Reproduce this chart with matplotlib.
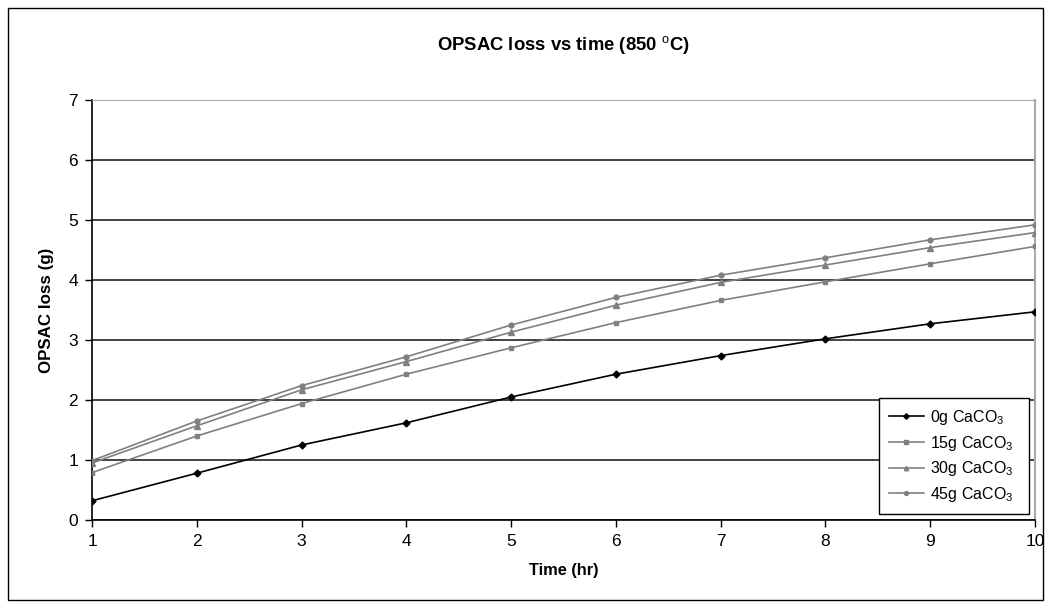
import matplotlib
matplotlib.use("Agg")
import matplotlib.pyplot as plt
from matplotlib.patches import Rectangle

plt.rcParams['font.family'] = ['Liberation Sans', 'DejaVu Sans']
plt.rcParams['mathtext.fontset'] = 'custom'
plt.rcParams['mathtext.rm'] = 'Liberation Sans'
plt.rcParams['mathtext.it'] = 'Liberation Sans'
plt.rcParams['mathtext.bf'] = 'Liberation Sans:bold'

# data
time_hr = [1, 2, 3, 4, 5, 6, 7, 8, 9, 10]
loss_0g = [0.32, 0.78, 1.25, 1.62, 2.05, 2.43, 2.74, 3.02, 3.27, 3.47]
loss_15g = [0.79, 1.40, 1.94, 2.43, 2.87, 3.29, 3.66, 3.97, 4.27, 4.56]
loss_30g = [0.95, 1.57, 2.17, 2.64, 3.13, 3.58, 3.96, 4.25, 4.54, 4.79]
loss_45g = [0.99, 1.65, 2.24, 2.72, 3.25, 3.71, 4.08, 4.37, 4.67, 4.92]
y_ticks = [0, 1, 2, 3, 4, 5, 6, 7]

fig = plt.figure(figsize=(10.51, 6.08), dpi=100)
# outer chart border
fig.patches.append(Rectangle((8 / 1051, 8 / 608), 1035 / 1051, 592 / 608,
                             transform=fig.transFigure, fill=False,
                             edgecolor='black', linewidth=1.0))
ax = fig.add_axes([92 / 1051, 1 - 520 / 608, (1035 - 92) / 1051, 420 / 608])

gray = '#808080'
ax.plot(time_hr, loss_0g, color='black', marker='D', markersize=3.5, linewidth=1.2,
        label='0g CaCO$_3$  ', zorder=5)
ax.plot(time_hr, loss_15g, color=gray, marker='s', markersize=3.5, linewidth=1.2,
        label='15g CaCO$_3$  ', zorder=4)
ax.plot(time_hr, loss_30g, color=gray, marker='^', markersize=4, linewidth=1.2,
        label='30g CaCO$_3$  ', zorder=4)
ax.plot(time_hr, loss_45g, color=gray, marker='o', markersize=3.5, linewidth=1.2,
        label='45g CaCO$_3$  ', zorder=4)

ax.set_xlim(1, 10)
ax.set_ylim(0, 7)
ax.set_xticks(time_hr)
ax.set_yticks(y_ticks)
ax.yaxis.grid(True, color='#222222', linewidth=1.2)
ax.set_axisbelow(True)
ax.tick_params(direction='out', length=5, width=1, labelsize=12.5, colors='black', pad=5)
ax.spines['left'].set_linewidth(1.2)
ax.spines['bottom'].set_linewidth(1.2)
ax.spines['right'].set_color('#aaaaaa')
ax.spines['right'].set_linewidth(1.5)
ax.spines['top'].set_color('#aaaaaa')

ax.set_title('OPSAC loss vs time (850 $^{\\mathrm{o}}$C)', fontsize=13.3, fontweight='bold',
             pad=36)
ax.set_ylabel('OPSAC loss (g)', fontsize=12.2, fontweight='bold', labelpad=10)
ax.set_xlabel('Time (hr)', fontsize=11.8, fontweight='bold', labelpad=10)

leg = ax.legend(loc='lower right', fontsize=11.5, frameon=True, fancybox=False,
                edgecolor='black', framealpha=1, handlelength=2.2, handletextpad=0.4,
                borderpad=0.6, borderaxespad=0.4, labelspacing=0.42, markerscale=0.8)
leg.get_frame().set_linewidth(1.0)

fig.savefig('out.png', dpi=100)
